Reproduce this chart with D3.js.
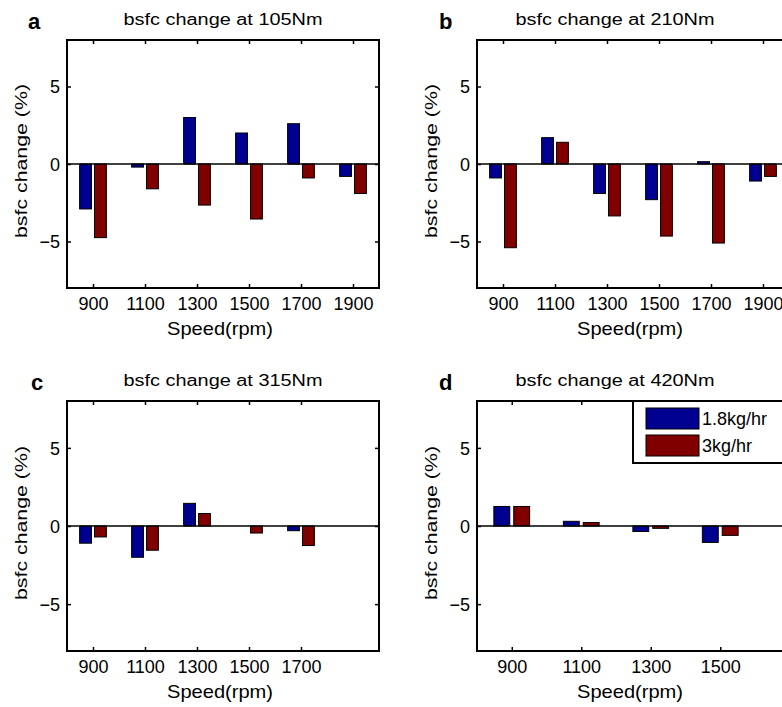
<!DOCTYPE html>
<html>
<head>
<meta charset="utf-8">
<script src="https://cdn.jsdelivr.net/npm/d3@7"></script>
<style>
  body { margin: 0; background: #fff; }
  text { font-family: "Liberation Sans", Arial, sans-serif; fill: #000; }
</style>
</head>
<body>
<div class="chart"></div>
<script>
// series
const seriesNames = ['1.8kg/hr', '3kg/hr'];
const seriesColors = ['#000090', '#800000'];

// speeds (rpm) per panel
const speedsA = [900, 1100, 1300, 1500, 1700, 1900];
const speedsB = [900, 1100, 1300, 1500, 1700, 1900];
const speedsC = [900, 1100, 1300, 1500, 1700];
const speedsD = [900, 1100, 1300, 1500];

// bsfc change (%)
const a18 = [-2.9, -0.2, 3.0, 2.0, 2.6, -0.8];
const a3  = [-4.75, -1.6, -2.65, -3.55, -0.9, -1.9];
const b18 = [-0.9, 1.7, -1.9, -2.3, 0.15, -1.1];
const b3  = [-5.4, 1.4, -3.35, -4.65, -5.1, -0.8];
const c18 = [-1.1, -2.0, 1.45, 0, -0.3];
const c3  = [-0.7, -1.55, 0.8, -0.45, -1.25];
const d18 = [1.25, 0.3, -0.35, -1.05];
const d3v = [1.25, 0.22, -0.15, -0.6];

const yTicks = [-5, 0, 5];

const w = 782, h = 707;

const panels = [
  { letter: 'a', title: 'bsfc change at 105Nm', speeds: speedsA, values: [a18, a3], slots: 6, left: 67, top: 40, bottom: 288, unit: 52, titleX: 223, letterX: 28 },
  { letter: 'b', title: 'bsfc change at 210Nm', speeds: speedsB, values: [b18, b3], slots: 6, left: 477, top: 40, bottom: 288, unit: 52, titleX: 615, letterX: 439 },
  { letter: 'c', title: 'bsfc change at 315Nm', speeds: speedsC, values: [c18, c3], slots: 6, left: 67, top: 401, bottom: 651, unit: 52, titleX: 223, letterX: 31 },
  { letter: 'd', title: 'bsfc change at 420Nm', speeds: speedsD, values: [d18, d3v], slots: 5, left: 477, top: 401, bottom: 651, unit: 69.5, titleX: 615, letterX: 439, legend: true }
];

const svg = d3.select('.chart')
  .append('svg')
  .attr('width', w)
  .attr('height', h);

panels.forEach(p => {
  const right = p.left + p.slots * p.unit;
  const x = d3.scaleLinear().domain([0.5, p.slots + 0.5]).range([p.left, right]);
  const y = d3.scaleLinear().domain([-8, 8]).range([p.bottom, p.top]);
  const inner = d3.scaleBand()
    .domain(d3.range(seriesNames.length))
    .range([-0.286 * p.unit, 0.286 * p.unit])
    .paddingInner(0.2)
    .paddingOuter(0.1);

  const g = svg.append('g');
  const idx = p.speeds.map((s, i) => i + 1);

  // bars
  p.values.forEach((vals, s) => {
    g.selectAll(null)
      .data(vals)
      .enter()
      .append('rect')
      .attr('x', (d, i) => x(i + 1) + inner(s))
      .attr('y', d => y(Math.max(0, d)))
      .attr('width', inner.bandwidth())
      .attr('height', d => Math.abs(y(d) - y(0)))
      .attr('fill', seriesColors[s])
      .attr('stroke', '#000')
      .attr('stroke-width', 1);
  });

  // zero line
  g.append('line')
    .attr('x1', p.left).attr('x2', right)
    .attr('y1', y(0)).attr('y2', y(0))
    .attr('stroke', '#000')
    .attr('stroke-width', 1.5);

  // axes
  const xb = g.append('g')
    .attr('transform', `translate(0, ${p.bottom})`)
    .call(d3.axisBottom(x).tickValues(idx).tickFormat(d => p.speeds[d - 1]).tickSizeInner(-4).tickSizeOuter(0).tickPadding(9));
  const xt = g.append('g')
    .attr('transform', `translate(0, ${p.top})`)
    .call(d3.axisTop(x).tickValues(idx).tickFormat('').tickSizeInner(-4).tickSizeOuter(0));
  const yl = g.append('g')
    .attr('transform', `translate(${p.left}, 0)`)
    .call(d3.axisLeft(y).tickValues(yTicks).tickFormat(d3.format('d')).tickSizeInner(-4).tickSizeOuter(0).tickPadding(7));
  const yr = g.append('g')
    .attr('transform', `translate(${right}, 0)`)
    .call(d3.axisRight(y).tickValues(yTicks).tickFormat('').tickSizeInner(-4).tickSizeOuter(0));

  [xb, xt, yl, yr].forEach(a => {
    a.select('.domain').remove();
    a.selectAll('line').attr('stroke', '#000').attr('stroke-width', 1.5);
    a.selectAll('text')
      .attr('font-family', '"Liberation Sans", Arial, sans-serif')
      .attr('font-size', 18)
      .attr('fill', '#000');
  });
  yl.selectAll('text').attr('dy', '0.36em');

  // box
  g.append('rect')
    .attr('x', p.left).attr('y', p.top)
    .attr('width', right - p.left).attr('height', p.bottom - p.top)
    .attr('fill', 'none')
    .attr('stroke', '#000')
    .attr('stroke-width', 2);

  // title
  g.append('text')
    .attr('x', p.titleX)
    .attr('y', p.top - 15)
    .attr('text-anchor', 'middle')
    .attr('font-size', 16)
    .attr('textLength', 199)
    .attr('lengthAdjust', 'spacingAndGlyphs')
    .text(p.title);

  // panel letter
  g.append('text')
    .attr('x', p.letterX)
    .attr('y', p.top - 11)
    .attr('font-size', 22)
    .attr('font-weight', 'bold')
    .text(p.letter);

  // axis labels
  g.append('text')
    .attr('x', p.left + 153)
    .attr('y', p.bottom + 47)
    .attr('text-anchor', 'middle')
    .attr('font-size', 19)
    .attr('textLength', 106)
    .attr('lengthAdjust', 'spacingAndGlyphs')
    .text('Speed(rpm)');

  g.append('text')
    .attr('transform', `translate(${p.left - 40}, ${(p.top + p.bottom) / 2 - 3}) rotate(-90)`)
    .attr('text-anchor', 'middle')
    .attr('font-size', 17)
    .attr('textLength', 154)
    .attr('lengthAdjust', 'spacingAndGlyphs')
    .text('bsfc change (%)');

  // legend
  if (p.legend) {
    const lg = g.append('g');
    lg.append('rect')
      .attr('x', 633).attr('y', p.top)
      .attr('width', 200).attr('height', 62)
      .attr('fill', '#fff')
      .attr('stroke', '#000')
      .attr('stroke-width', 2);
    const items = lg.selectAll(null)
      .data(seriesNames)
      .enter()
      .append('g')
      .attr('transform', (d, i) => `translate(646, ${p.top + 7 + i * 27})`);
    items.append('rect')
      .attr('width', 53).attr('height', 21)
      .attr('fill', (d, i) => seriesColors[i])
      .attr('stroke', '#000');
    items.append('text')
      .attr('x', 56)
      .attr('y', 17)
      .attr('font-size', 18)
      .text(d => d);
  }
});
</script>
</body>
</html>
